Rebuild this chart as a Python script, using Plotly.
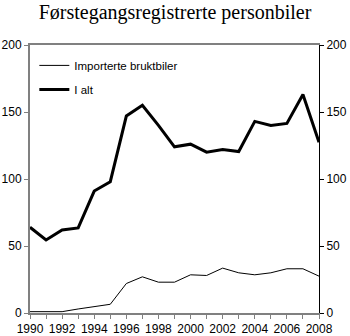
import plotly.graph_objects as go

years = list(range(1990, 2009))
importerte = [1, 1, 1, 3, 5, 6.5, 22, 27, 23, 23, 28.5, 28, 33.5, 30, 28.5, 30, 33, 33, 27.5]
i_alt = [64, 54.5, 62, 63.5, 91, 98, 147, 155, 140, 124, 126, 120, 122, 120.5, 143, 140, 141.5, 163, 127.5]
tick_years = years
tick_text = [str(y) if y % 2 == 0 else "" for y in years]
y_ticks = [0, 50, 100, 150, 200]

fig = go.Figure()
fig.add_trace(go.Scatter(x=years, y=importerte, mode="lines", name="Importerte bruktbiler",
                         legendgroup="a", line=dict(color="black", width=1)))
fig.add_trace(go.Scatter(x=years, y=i_alt, mode="lines", name="I alt",
                         legendgroup="b", line=dict(color="black", width=3)))
# invisible trace for right axis
fig.add_trace(go.Scatter(x=years, y=i_alt, yaxis="y2", mode="lines", showlegend=False,
                         line=dict(color="rgba(0,0,0,0)", width=0), hoverinfo="skip"))

tick_font = dict(family="Liberation Sans, Arial", size=12, color="black")
fig.update_layout(
    width=350, height=336,
    margin=dict(l=30, r=31, t=45, b=23, autoexpand=False),
    paper_bgcolor="white", plot_bgcolor="white",
    title=dict(text="Førstegangsregistrerte personbiler", x=0.5, xanchor="center", y=0.985, yanchor="top",
               font=dict(family="Liberation Serif, Times New Roman", size=20, color="black")),
    xaxis=dict(range=[1990, 2008], tickvals=tick_years, ticktext=tick_text, ticks="outside",
               ticklen=4, tickcolor="#808080", showline=True, linecolor="#808080", linewidth=2,
               mirror=True, showgrid=False, zeroline=False, tickfont=tick_font, automargin=False),
    yaxis=dict(range=[0, 200], tickvals=y_ticks, ticks="outside", ticklen=4, tickcolor="#808080",
               showline=True, linecolor="#808080", linewidth=2, showgrid=False, zeroline=False,
               tickfont=tick_font, automargin=False),
    yaxis2=dict(range=[0, 200], tickvals=y_ticks, overlaying="y", side="right", ticks="outside",
                ticklen=4, tickcolor="black", showline=True, linecolor="black", linewidth=1,
                showgrid=False, zeroline=False, tickfont=tick_font, automargin=False),
    legend=dict(x=0.015, y=0.978, xanchor="left", yanchor="top", bgcolor="rgba(0,0,0,0)",
                font=dict(family="Liberation Sans, Arial", size=11.5, color="black"),
                tracegroupgap=5),
    showlegend=True,
)
fig.write_html("out.html")
